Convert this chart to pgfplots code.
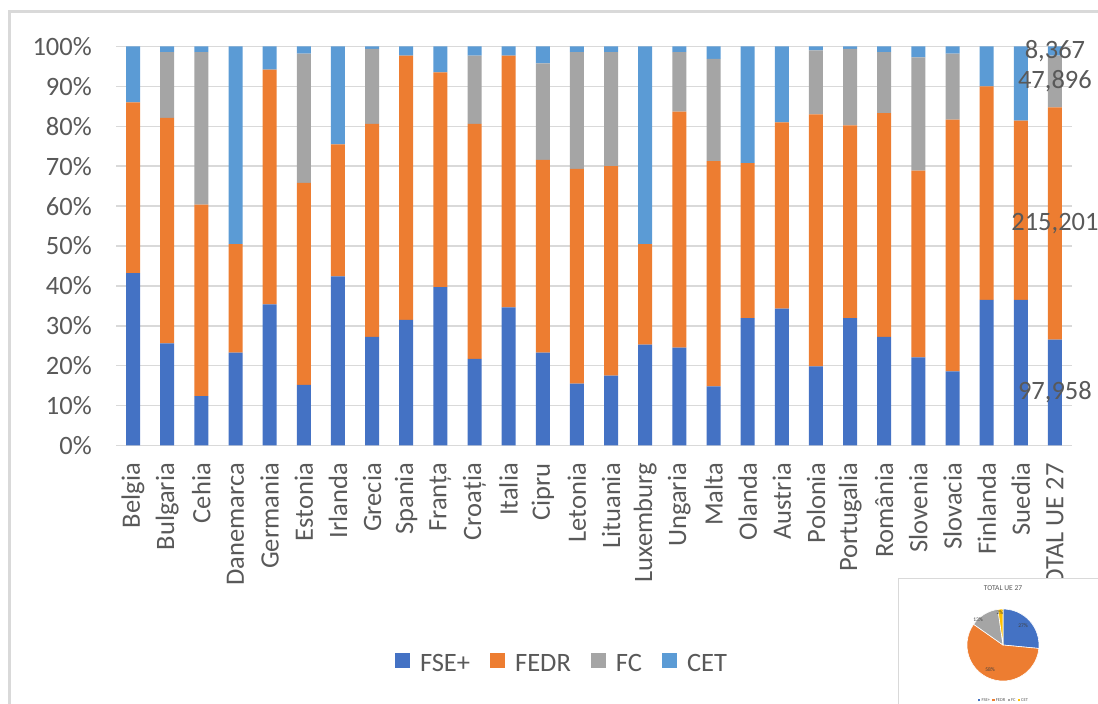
\documentclass[border=0pt]{standalone}
\usepackage{pgfplots}
\pgfplotsset{compat=1.18}
\usepackage{pgfplotstable}
\usepackage{fontspec}
\setmainfont{Carlito}
\definecolor{cA}{HTML}{4472C4}
\definecolor{cB}{HTML}{ED7D31}
\definecolor{cC}{HTML}{A5A5A5}
\definecolor{cD}{HTML}{5B9BD5}
\definecolor{cY}{HTML}{FFC000}
\definecolor{grid}{HTML}{D9D9D9}
\definecolor{txt}{HTML}{595959}
\definecolor{dtxt}{HTML}{404040}
\newcommand\fs{\fontsize{26.5}{30}\selectfont}
\pgfplotsset{sqlegend/.style={legend image code/.code={\fill[##1] (0pt,-4pt) rectangle (15pt,11pt);}}}

% shares in percent; FC = 0 where the fund has no allocation
\pgfplotstableread{
x fse fedr fc cet
0 43.2 42.8 0 14.0
1 25.6 56.5 16.5 1.4
2 12.4 48.0 38.2 1.4
3 23.3 27.2 0 49.5
4 35.4 58.8 0 5.8
5 15.2 50.6 32.4 1.8
6 42.4 33.1 0 24.5
7 27.2 53.4 18.8 0.6
8 31.5 66.2 0 2.3
9 39.7 53.8 0 6.5
10 21.7 58.9 17.1 2.3
11 34.6 63.1 0 2.3
12 23.3 48.3 24.2 4.2
13 15.5 53.8 29.3 1.4
14 17.5 52.5 28.6 1.4
15 25.3 25.2 0 49.5
16 24.5 59.2 14.9 1.4
17 14.8 56.5 25.6 3.1
18 31.9 38.9 0 29.2
19 34.3 46.7 0 19.0
20 19.8 63.2 16.0 1.0
21 31.9 48.3 19.2 0.6
22 27.2 56.1 15.3 1.4
23 22.1 46.8 28.4 2.7
24 18.6 63.1 16.5 1.8
25 36.5 53.5 0 10.0
26 36.5 44.9 0 18.6
27 26.52 58.25 12.97 2.26
}\data

\begin{document}
\begin{tikzpicture}
\useasboundingbox (0pt,0pt) rectangle (1098pt,704pt);
% chart border
\draw[grid, line width=2.5pt] (9.5pt,-10pt) -- (9.5pt,692.5pt) -- (1110pt,692.5pt);
\begin{axis}[
  at={(116pt,258.5pt)}, anchor=south west,
  scale only axis, width=956pt, height=399pt,
  ybar stacked, bar width=14pt,
  xmin=-0.5, xmax=27.5, ymin=0, ymax=100,
  xtick={0,...,27},
  xticklabels={Belgia,Bulgaria,Cehia,Danemarca,Germania,Estonia,Irlanda,Grecia,Spania,Franța,Croația,Italia,Cipru,Letonia,Lituania,Luxemburg,Ungaria,Malta,Olanda,Austria,Polonia,Portugalia,România,Slovenia,Slovacia,Finlanda,Suedia,TOTAL UE 27},
  ytick={0,10,...,100},
  yticklabels={0\%,10\%,20\%,30\%,40\%,50\%,60\%,70\%,80\%,90\%,100\%},
  axis line style={draw=none}, major tick length=0pt,
  ymajorgrids, grid style={draw=grid, line width=1.5pt},
  xticklabel style={rotate=90, anchor=east, inner sep=0pt, font=\fs, text=txt},
  yticklabel style={anchor=east, inner sep=0pt, font=\fs, text=txt},
  xticklabel shift=17.5pt, yticklabel shift=24pt,
  legend columns=4,
  legend style={at={(0.4655,-0.545)}, anchor=center, draw=none, fill=none,
    font=\fs, text=txt, nodes={inner sep=0pt},
    /tikz/every odd column/.append style={column sep=10pt},
    /tikz/every even column/.append style={column sep=20pt}},
  clip=false,
]
\addplot[fill=cA, draw=none, sqlegend] table[x=x, y=fse] {\data};
\addplot[fill=cB, draw=none, sqlegend] table[x=x, y=fedr] {\data};
\addplot[fill=cC, draw=none, sqlegend] table[x=x, y=fc] {\data};
\addplot[fill=cD, draw=none, sqlegend] table[x=x, y=cet] {\data};
\legend{FSE+,FEDR,FC,CET}
\coordinate (l1) at (axis cs:27,13.26);
\coordinate (l2) at (axis cs:27,55.65);
\coordinate (l3) at (axis cs:27,91.26);
\coordinate (l4) at (axis cs:27,98.87);
\end{axis}
% data labels of the TOTAL UE 27 bar, on top of the bars
\node[font=\fs, text=txt] at (l1) {97,958};
\node[font=\fs, text=txt] at (l2) {215,201};
\node[font=\fs, text=txt] at (l3) {47,896};
\node[font=\fs, text=txt] at (l4) {8,367};
% inset: pie of TOTAL UE 27 (shares in percent)
\fill[white] (898pt,125pt) rectangle (1110pt,-10pt);
\draw[grid, line width=1pt] (898pt,-10pt) -- (898pt,125pt) -- (1110pt,125pt);
\node[font=\fontsize{7.5}{9}\selectfont, text=txt] at (1003pt,116pt) {TOTAL UE 27};
\pgfmathsetmacro\aA{90-3.6*26.52}
\pgfmathsetmacro\aB{\aA-3.6*58.25}
\pgfmathsetmacro\aC{\aB-3.6*12.97}
\pgfmathsetmacro\aD{\aC-3.6*2.26}
\begin{scope}[shift={(1003pt,59pt)}, draw=white, line width=0.6pt]
\filldraw[fill=cA] (0,0) -- (90:36pt) arc[start angle=90, end angle=\aA, radius=36pt] -- cycle;
\filldraw[fill=cB] (0,0) -- (\aA:36pt) arc[start angle=\aA, end angle=\aB, radius=36pt] -- cycle;
\filldraw[fill=cC] (0,0) -- (\aB:36pt) arc[start angle=\aB, end angle=\aC, radius=36pt] -- cycle;
\filldraw[fill=cY] (0,0) -- (\aC:36pt) arc[start angle=\aC, end angle=\aD, radius=36pt] -- cycle;
\end{scope}
\begin{scope}[every node/.style={font=\fontsize{5.5}{6}\selectfont, text=dtxt}]
\node at (1023pt,78pt) {27\%};
\node at (990pt,34pt) {58\%};
\node at (978pt,84pt) {13\%};
\node at (1000pt,91pt) {2\%};
\end{scope}
\node[font=\fontsize{4.5}{5}\selectfont, text=txt] at (1003pt,4pt)
  {\textcolor{cA}{\rule{2.5pt}{2.5pt}} FSE+\enspace
   \textcolor{cB}{\rule{2.5pt}{2.5pt}} FEDR\enspace
   \textcolor{cC}{\rule{2.5pt}{2.5pt}} FC\enspace
   \textcolor{cY}{\rule{2.5pt}{2.5pt}} CET};
\end{tikzpicture}
\end{document}
